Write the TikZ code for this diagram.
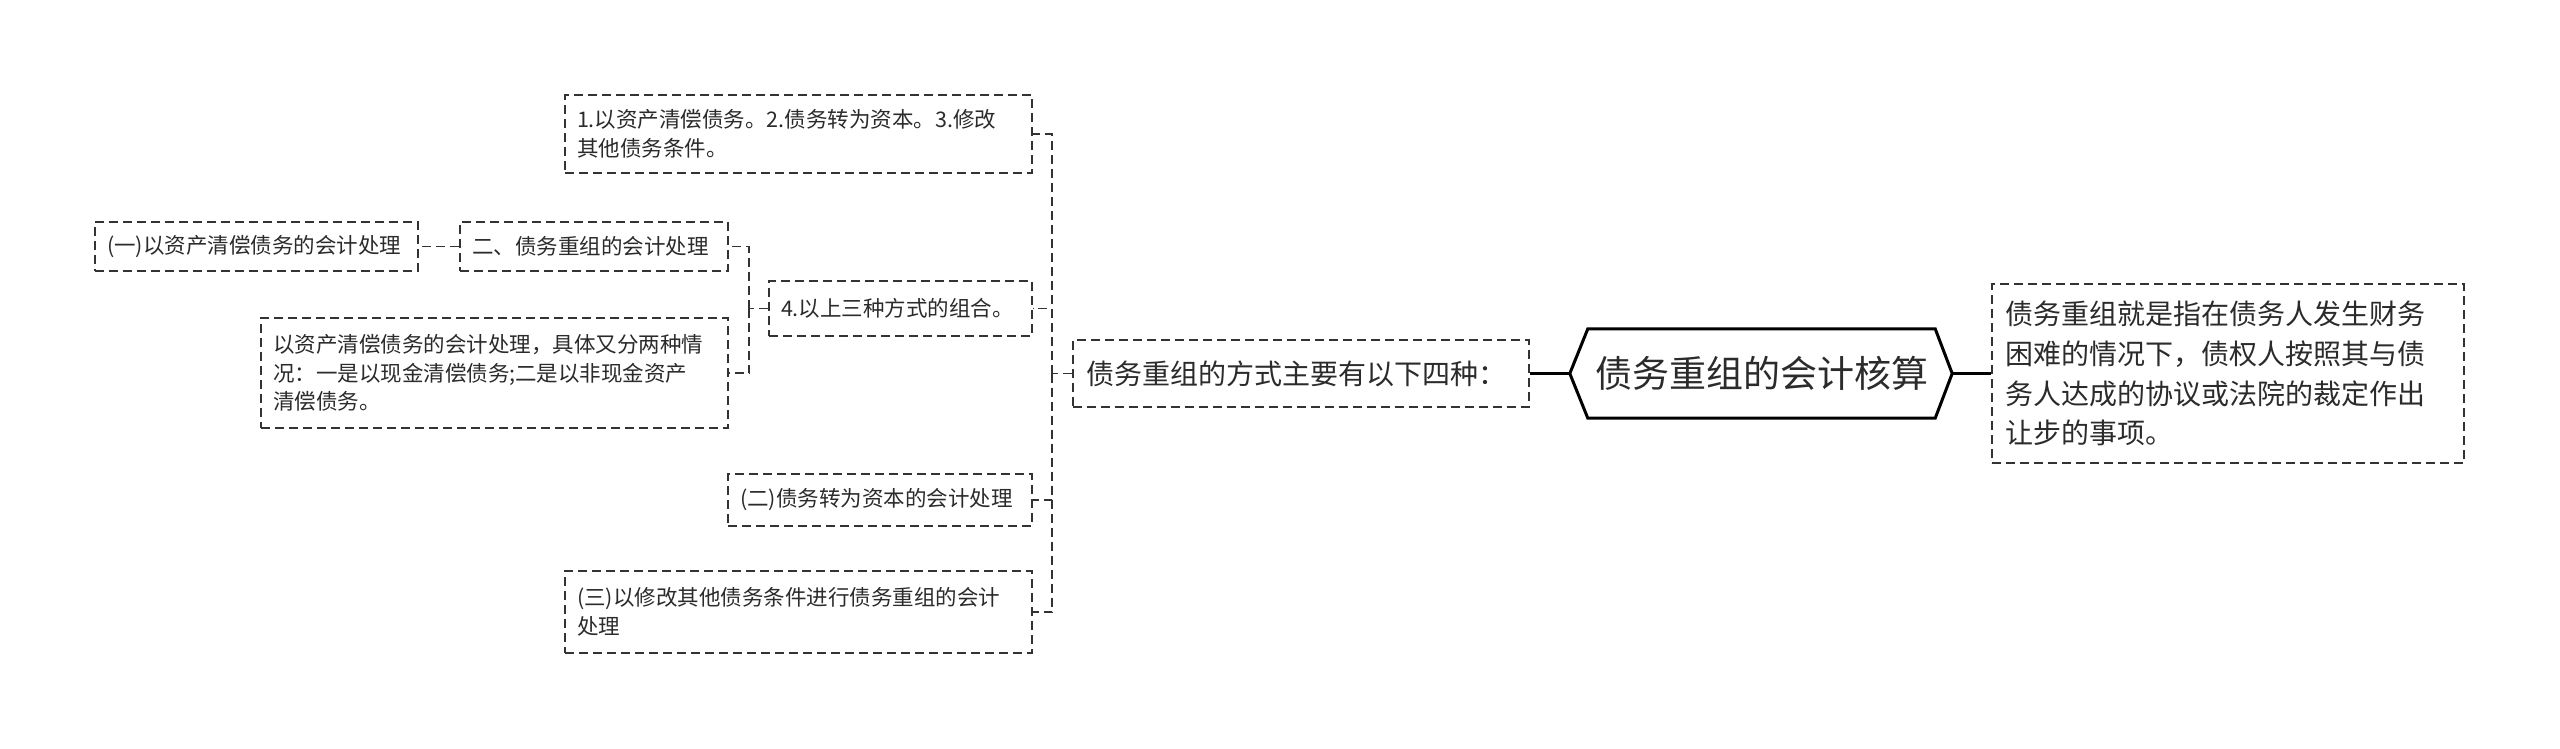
\documentclass[tikz,border=0pt]{standalone}
\usepackage{fontspec}
\setmainfont{Noto Sans CJK SC}
\usetikzlibrary{calc}
\definecolor{txt}{HTML}{2B2B2B}
\definecolor{ln}{HTML}{333333}
\tikzset{
  box/.style={draw=ln, dash pattern=on 9pt off 5pt, line width=1.8pt, inner sep=0pt,
    align=left, anchor=center, text=txt, font=\fontsize{21.5}{28.5}\selectfont},
  conn/.style={draw=ln, dash pattern=on 9pt off 5pt, line width=1.8pt},
  solidconn/.style={draw=black, line width=3pt},
}
\begin{document}
\begin{tikzpicture}[x=1pt,y=-1pt]
\useasboundingbox (0,0) rectangle (2560,748);
\fill[white] (0,0) rectangle (2560,748);

% root
\node[font=\fontsize{37}{44}\selectfont, text=txt, minimum width=347pt, minimum height=89pt, inner sep=0pt] (root) at (1761.5,373.5) {债务重组的会计核算};
\coordinate (rootL) at ($(root.west)+(-18,0)$);
\coordinate (rootR) at ($(root.east)+(17,0)$);
\draw[line width=3pt, line join=miter] (root.north west) -- (root.north east) -- (rootR) -- (root.south east) -- (root.south west) -- (rootL) -- cycle;

% right description
\node[box, font=\fontsize{28}{39.7}\selectfont, minimum width=472pt, minimum height=179pt, text width=446pt] (D) at (2228,373.5)
{债务重组就是指在债务人发生财务\\困难的情况下，债权人按照其与债\\务人达成的协议或法院的裁定作出\\让步的事项。};

% level 1
\node[box, font=\fontsize{28}{34}\selectfont, minimum width=456pt, minimum height=67pt, text width=430pt] (L1) at (1301,373.5)
{债务重组的方式主要有以下四种：};

% children of level 1
\node[box, minimum width=467pt, minimum height=78pt, text width=443pt] (C1) at (798.5,134)
{1.以资产清偿债务。2.债务转为资本。3.修改\\其他债务条件。};
\node[box, minimum width=263pt, minimum height=55pt, text width=239pt] (C4) at (900.5,308.5)
{4.以上三种方式的组合。};
\node[box, minimum width=304pt, minimum height=52pt, text width=280pt] (C2) at (880,500)
{(二)债务转为资本的会计处理};
\node[box, minimum width=467pt, minimum height=82pt, text width=443pt] (C3) at (798.5,612)
{(三)以修改其他债务条件进行债务重组的会计\\处理};

% children of C4
\node[box, minimum width=268pt, minimum height=49pt, text width=244pt] (G1) at (594,246.5)
{二、债务重组的会计处理};
\node[box, minimum width=467pt, minimum height=110pt, text width=443pt] (G2) at (494.5,373)
{以资产清偿债务的会计处理，具体又分两种情\\况：一是以现金清偿债务;二是以非现金资产\\清偿债务。};

% child of G1
\node[box, minimum width=323pt, minimum height=49pt, text width=299pt] (H1) at (256.5,246.5)
{(一)以资产清偿债务的会计处理};

% connectors
\draw[solidconn] (rootL) -- (L1.east);
\draw[solidconn] (rootR) -- (D.west);

\coordinate (b1) at (1052,373.5);
\draw[conn] (L1.west) -- (b1);
\draw[conn] (b1) |- (C1.east);
\draw[conn] (b1) |- (C4.east);
\draw[conn] (b1) |- (C2.east);
\draw[conn] (b1) |- (C3.east);

\coordinate (b2) at (749,308.5);
\draw[conn] (C4.west) -- (b2);
\draw[conn] (b2) |- (G1.east);
\draw[conn] (b2) |- (G2.east);

\draw[conn] (G1.west) -- (H1.east);
\end{tikzpicture}
\end{document}
